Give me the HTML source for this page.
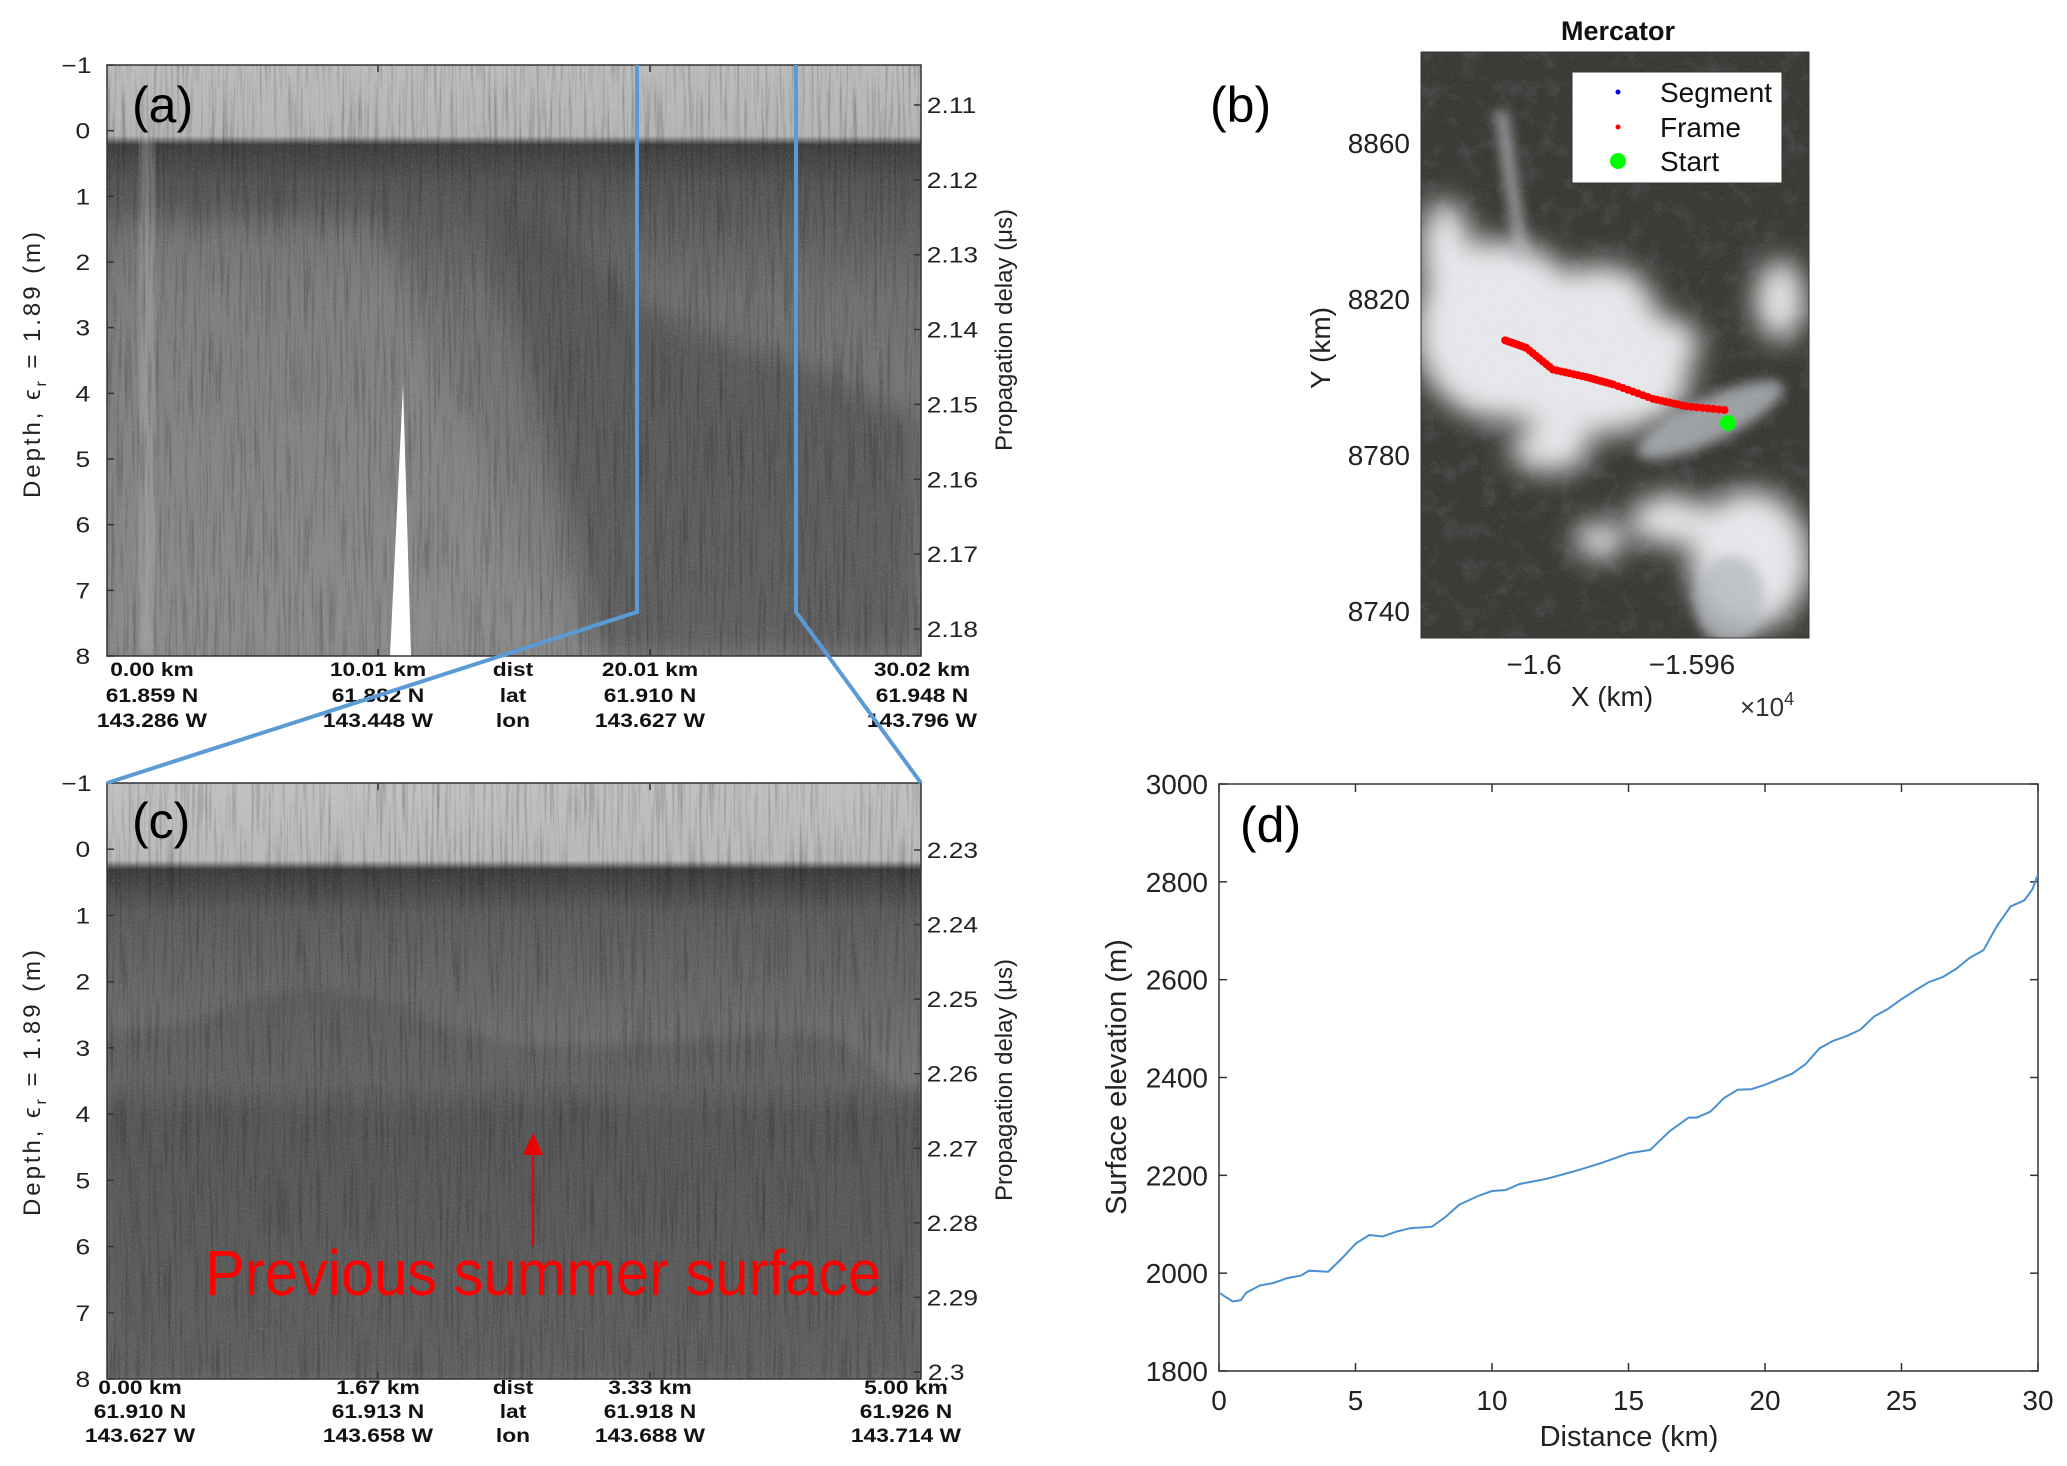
<!DOCTYPE html>
<html><head><meta charset="utf-8">
<style>
html,body{margin:0;padding:0;background:#fff;}
svg{display:block;font-family:"Liberation Sans",sans-serif;}
.sx{transform-box:fill-box;transform-origin:center;transform:scaleX(1.2);}
.tk{font-size:22px;fill:#222;}
.bl{font-size:19px;font-weight:bold;fill:#111;}
.tk2{font-size:28px;fill:#222;}
</style></head>
<body>
<svg id="fig" width="2067" height="1466" viewBox="0 0 2067 1466" xmlns="http://www.w3.org/2000/svg">
<defs>
<filter id="streak" x="0" y="0" width="100%" height="100%">
<feTurbulence type="fractalNoise" baseFrequency="0.35 0.012" numOctaves="3" seed="3"/>
<feColorMatrix type="matrix" values="0 0 0 0 0  0 0 0 0 0  0 0 0 0 0  0 0 0 -1.4 0.75"/>
</filter>
<filter id="speck" x="0" y="0" width="100%" height="100%">
<feTurbulence type="fractalNoise" baseFrequency="0.8 0.5" numOctaves="1" seed="7"/>
<feColorMatrix type="matrix" values="0 0 0 0 1  0 0 0 0 1  0 0 0 0 1  0 0 0 -1.2 0.65"/>
</filter>
<filter id="rough" x="0" y="0" width="100%" height="100%">
<feTurbulence type="fractalNoise" baseFrequency="0.05" numOctaves="4" seed="11"/>
<feColorMatrix type="matrix" values="0 0 0 0 0.1  0 0 0 0 0.1  0 0 0 0 0.12  0 0 0 -2.2 1.1"/>
</filter>
<filter id="blur6"><feGaussianBlur stdDeviation="6"/></filter>
<filter id="blur14"><feGaussianBlur stdDeviation="14"/></filter>
<linearGradient id="ga" x1="0" y1="0" x2="0" y2="1">
<stop offset="0" stop-color="#bcbcbc"/><stop offset="0.12" stop-color="#b4b4b4"/>
<stop offset="0.135" stop-color="#3e3e3e"/><stop offset="0.2" stop-color="#545454"/>
<stop offset="0.4" stop-color="#707070"/><stop offset="1" stop-color="#848484"/>
</linearGradient>
<linearGradient id="gc" x1="0" y1="0" x2="0" y2="1">
<stop offset="0" stop-color="#c0c0c0"/><stop offset="0.13" stop-color="#b8b8b8"/>
<stop offset="0.145" stop-color="#3c3c3c"/><stop offset="0.22" stop-color="#5c5c5c"/>
<stop offset="0.5" stop-color="#747474"/><stop offset="0.56" stop-color="#5c5c5c"/>
<stop offset="1" stop-color="#6e6e6e"/>
</linearGradient>
<clipPath id="clipA"><rect x="107" y="65" width="814" height="591"/></clipPath>
<clipPath id="clipC"><rect x="107" y="783" width="814" height="596"/></clipPath>
<clipPath id="clipB"><rect x="1421" y="52" width="388" height="586"/></clipPath>
<clipPath id="clipD"><rect x="1219" y="784" width="819" height="587"/></clipPath>
</defs>

<!-- ===== Panel (a) ===== -->
<g id="panel-a">
<g clip-path="url(#clipA)">
<rect x="107" y="65" width="814" height="591" fill="url(#ga)"/>
<polygon points="480,190 560,230 640,300 720,340 800,360 921,420 921,656 600,656" fill="#4a4a4a" opacity="0.6" filter="url(#blur14)"/>
<polygon points="107,220 380,220 560,656 107,656" fill="#9a9a9a" opacity="0.35" filter="url(#blur14)"/>
<rect x="140" y="65" width="14" height="591" fill="#bbb" opacity="0.45" filter="url(#blur6)"/>
<rect x="107" y="65" width="814" height="591" filter="url(#streak)" opacity="0.4"/>
<rect x="107" y="65" width="814" height="591" filter="url(#speck)" opacity="0.25"/>
<polygon points="390,656 403,385 411,656" fill="#fff"/>
</g>
<rect x="107" y="65" width="814" height="591" fill="none" stroke="#333" stroke-width="1.5"/>
<g id="axes-a"></g>
<text x="132" y="122" font-size="50" fill="#000">(a)</text>
<text transform="translate(40,365) rotate(-90)" text-anchor="middle" font-size="24" fill="#222" textLength="266">Depth, ϵ<tspan font-size="16" dy="6">r</tspan><tspan dy="-6"> = 1.89 (m)</tspan></text>
<text transform="translate(1012,330) rotate(-90)" text-anchor="middle" font-size="24" fill="#222">Propagation delay (μs)</text>
</g>

<!-- ===== Panel (c) ===== -->
<g id="panel-c">
<g clip-path="url(#clipC)">
<rect x="107" y="783" width="814" height="596" fill="url(#gc)"/>
<path d="M107,1030 C200,1040 250,980 330,990 C420,1000 450,1040 540,1045 C700,1050 760,1020 840,1040 C900,1080 900,1110 921,1080 L921,1379 L107,1379 Z" fill="#4f4f4f" opacity="0.45" filter="url(#blur6)"/>
<rect x="107" y="783" width="814" height="596" filter="url(#streak)" opacity="0.4"/>
<rect x="107" y="783" width="814" height="596" filter="url(#speck)" opacity="0.25"/>
</g>
<rect x="107" y="783" width="814" height="596" fill="none" stroke="#333" stroke-width="1.5"/>
<g id="axes-c"></g>
<text x="132" y="838" font-size="50" fill="#000">(c)</text>
<text transform="translate(40,1083) rotate(-90)" text-anchor="middle" font-size="24" fill="#222" textLength="266">Depth, ϵ<tspan font-size="16" dy="6">r</tspan><tspan dy="-6"> = 1.89 (m)</tspan></text>
<text transform="translate(1012,1080) rotate(-90)" text-anchor="middle" font-size="24" fill="#222">Propagation delay (μs)</text>
<line x1="533" y1="1246" x2="533" y2="1152" stroke="#e00" stroke-width="2"/>
<polygon points="523,1155 543,1155 533,1133" fill="#e00"/>
<text x="205" y="1295" font-size="64" fill="#f00" textLength="676" lengthAdjust="spacingAndGlyphs">Previous summer surface</text>
</g>

<!-- zoom connector lines -->
<polyline points="637,65 637,612 107,783" fill="none" stroke="#5b9bd5" stroke-width="4"/>
<polyline points="796,65 796,612 921,783" fill="none" stroke="#5b9bd5" stroke-width="4"/>

<!-- ===== Panel (b) ===== -->
<g id="panel-b">
<text x="1618" y="40" text-anchor="middle" font-size="27" font-weight="bold" fill="#111">Mercator</text>
<g clip-path="url(#clipB)">
<rect x="1421" y="52" width="388" height="586" fill="#3a3934"/>
<rect x="1421" y="52" width="388" height="586" filter="url(#rough)" opacity="0.6"/>
<g fill="#e6e7ea" filter="url(#blur14)">
<ellipse cx="1500" cy="330" rx="85" ry="90"/>
<ellipse cx="1590" cy="380" rx="100" ry="55"/>
<ellipse cx="1600" cy="310" rx="55" ry="45"/>
<ellipse cx="1655" cy="345" rx="45" ry="30"/>
<ellipse cx="1445" cy="250" rx="25" ry="50"/>
<ellipse cx="1750" cy="560" rx="60" ry="70"/>
<ellipse cx="1670" cy="520" rx="40" ry="25"/>
<ellipse cx="1780" cy="300" rx="25" ry="40"/>
<ellipse cx="1550" cy="450" rx="40" ry="22"/>
<ellipse cx="1600" cy="540" rx="25" ry="18"/>
</g>
<g fill="#b5b9bf" opacity="0.8" filter="url(#blur6)">
<ellipse cx="1710" cy="420" rx="80" ry="22" transform="rotate(-25 1710 420)"/>
<rect x="1505" y="110" width="12" height="150" transform="rotate(-8 1512 180)"/>
<ellipse cx="1730" cy="600" rx="35" ry="45"/>
</g>
<rect x="1421" y="52" width="388" height="586" filter="url(#speck)" opacity="0.18"/>
</g>
<rect x="1421" y="52" width="388" height="586" fill="none" stroke="#333" stroke-width="1"/>
<g id="track"></g>
<g id="axes-b"></g>
<text x="1210" y="122" font-size="50" fill="#000">(b)</text>
<text transform="translate(1330,348) rotate(-90)" text-anchor="middle" font-size="28" fill="#222">Y (km)</text>
<text x="1612" y="706" text-anchor="middle" font-size="28" fill="#222">X (km)</text>
<text x="1740" y="716" font-size="26" fill="#333">×10<tspan font-size="18" dy="-11">4</tspan></text>
<g>
<rect x="1572" y="72" width="210" height="111" fill="#fff" stroke="#333" stroke-width="1"/>
<circle cx="1618" cy="92" r="2.5" fill="#00f"/>
<text x="1660" y="102" font-size="28" fill="#111">Segment</text>
<circle cx="1618" cy="127" r="2.5" fill="#f00"/>
<text x="1660" y="137" font-size="28" fill="#111">Frame</text>
<circle cx="1618" cy="161" r="8" fill="#0f0"/>
<text x="1660" y="171" font-size="28" fill="#111">Start</text>
</g>
</g>

<!-- ===== Panel (d) ===== -->
<g id="panel-d">
<rect x="1219" y="784" width="819" height="587" fill="#fff" stroke="#333" stroke-width="1.5"/>
<g id="axes-d"></g>
<g clip-path="url(#clipD)"><path id="elev-line" fill="none" stroke="#4a90d0" stroke-width="2"/></g>
<text x="1240" y="842" font-size="50" fill="#000">(d)</text>
<text transform="translate(1126,1077) rotate(-90)" text-anchor="middle" font-size="29" fill="#222">Surface elevation (m)</text>
<text x="1629" y="1446" text-anchor="middle" font-size="29" fill="#222">Distance (km)</text>
</g>

<script>
// ---------- data ----------
const depthTicks = [-1,0,1,2,3,4,5,6,7,8];
const delayTicksA = ["2.11","2.12","2.13","2.14","2.15","2.16","2.17","2.18"];
const delayTicksC = ["2.23","2.24","2.25","2.26","2.27","2.28","2.29","2.3"];
const distLabelsA = ["0.00 km","10.01 km","dist","20.01 km","30.02 km"];
const latLabelsA = ["61.859 N","61.882 N","lat","61.910 N","61.948 N"];
const lonLabelsA = ["143.286 W","143.448 W","lon","143.627 W","143.796 W"];
const distLabelsC = ["0.00 km","1.67 km","dist","3.33 km","5.00 km"];
const latLabelsC = ["61.910 N","61.913 N","lat","61.918 N","61.926 N"];
const lonLabelsC = ["143.627 W","143.658 W","lon","143.688 W","143.714 W"];
const mapYTicks = [8860,8820,8780,8740];
const mapXTicks = [-1.6,-1.596];
const trackX = [-1.60073,-1.6002,-1.59952,-1.59868,-1.598,-1.59699,-1.59615,-1.59504];
const trackY = [8809.4,8807.5,8801.9,8800.0,8798.1,8794.4,8792.5,8791.4];
const startX = [-1.59509];
const startY = [8788.2];
const elevDist = [0,0.5,0.8,1,1.5,2,2.5,3,3.3,4,4.5,5,5.5,6,6.5,7,7.8,8.3,8.8,9.5,10,10.5,11,12,13,14,15,15.8,16.5,17.2,17.5,18,18.5,19,19.5,20,21,21.5,22,22.5,23,23.5,24,24.5,25,25.5,26,26.5,27,27.5,28,28.5,29,29.5,29.8,30];
const elevVals = [1960,1942,1945,1960,1975,1980,1990,1995,2005,2003,2030,2060,2078,2075,2085,2092,2095,2115,2140,2158,2168,2170,2182,2193,2208,2225,2245,2252,2290,2318,2318,2330,2358,2375,2376,2385,2408,2428,2460,2475,2485,2498,2525,2540,2560,2578,2595,2605,2622,2645,2660,2710,2750,2762,2785,2815];
const elevYTicks = [1800,2000,2200,2400,2600,2800,3000];
const elevXTicks = [0,5,10,15,20,25,30];

const NS = "http://www.w3.org/2000/svg";
function mk(tag, attrs, parent, txt){
  const e = document.createElementNS(NS, tag);
  for (const k in attrs) e.setAttribute(k, attrs[k]);
  if (txt !== undefined) e.textContent = txt;
  parent.appendChild(e);
  return e;
}

function radarAxes(gid, top, bottom, delayTicks, delayTop, delayBot, dl, lt, ln, labelXs, rowYs){
  const g = document.getElementById(gid);
  const L = 107, R = 921;
  const yD = d => top + (d + 1) / 9 * (bottom - top);
  depthTicks.forEach(d => {
    const y = yD(d);
    const t = mk('line', {x1:L, x2:L+7, y1:y, y2:y, stroke:'#333', 'stroke-width':1.5}, g);
    
    
    const lab = mk('text', {x:L-18, y:y+8, 'text-anchor':'end', class:'tk sx'}, g, d === -1 ? '\u22121' : String(d));
    
    
  });
  const n = delayTicks.length;
  delayTicks.forEach((v, i) => {
    const y = delayTop + i * (delayBot - delayTop) / (n - 1);
    const t = mk('line', {x1:R-7, x2:R, y1:y, y2:y, stroke:'#333', 'stroke-width':1.5}, g);
    
    
    const lab = mk('text', {x:R+10, y:y+8, class:'tk sx'}, g, v);
    
    
  });
  [labelXs[1], labelXs[3]].forEach(x => {
    mk('line', {x1:x, x2:x, y1:top, y2:top+7, stroke:'#333', 'stroke-width':1.5}, g);
    mk('line', {x1:x, x2:x, y1:bottom-7, y2:bottom, stroke:'#333', 'stroke-width':1.5}, g);
  });
  [dl, lt, ln].forEach((arr, r) => {
    arr.forEach((s, i) => {
      const lab = mk('text', {x:labelXs[i], y:rowYs[r], 'text-anchor':'middle', class:'bl sx'}, g, s);
      
      
    });
  });
}
radarAxes('axes-a', 65, 656, delayTicksA, 105, 629, distLabelsA, latLabelsA, lonLabelsA, [152,378,513,650,922], [676,702,727]);
radarAxes('axes-c', 783, 1379, delayTicksC, 850, 1372, distLabelsC, latLabelsC, lonLabelsC, [140,378,513,650,906], [1394,1418,1442]);

// ---------- map axes ----------
const mx = v => 1534 + (v - (-1.6)) / 0.004 * 158;
const my = v => 143 + (8860 - v) / 120 * 468;
(function(){
  const g = document.getElementById('axes-b');
  mapYTicks.forEach(v => {
    const lab = mk('text', {x:1410, y:my(v)+10, 'text-anchor':'end', class:'tk2'}, g, String(v));
    
    
  });
  mapXTicks.forEach(v => {
    const lab = mk('text', {x:mx(v), y:674, 'text-anchor':'middle', class:'tk2'}, g, '\u2212' + String(Math.abs(v)));
    
    
  });
  const tg = document.getElementById('track');
  for (let i = 0; i < trackX.length - 1; i++) {
    const x0 = mx(trackX[i]), y0 = my(trackY[i]), x1 = mx(trackX[i+1]), y1 = my(trackY[i+1]);
    for (let k = 0; k < 8; k++) {
      const t = k / 8;
      const c = mk('circle', {cx:x0+(x1-x0)*t, cy:y0+(y1-y0)*t, r:4, fill:'#f00'}, tg);
      
      
    }
  }
  const s = mk('circle', {cx:mx(startX[0]), cy:my(startY[0]), r:8, fill:'#0f0'}, tg);
  
  
})();

// ---------- elevation chart ----------
const ex = v => 1219 + v / 30 * 819;
const ey = v => 1371 - (v - 1800) / 1200 * 587;
(function(){
  const g = document.getElementById('axes-d');
  elevYTicks.forEach(v => {
    const y = ey(v);
    mk('line', {x1:1219, x2:1227, y1:y, y2:y, stroke:'#333', 'stroke-width':1.5}, g);
    mk('line', {x1:2030, x2:2038, y1:y, y2:y, stroke:'#333', 'stroke-width':1.5}, g);
    const lab = mk('text', {x:1208, y:y+10, 'text-anchor':'end', class:'tk2'}, g, String(v));
    
    
  });
  elevXTicks.forEach(v => {
    const x = ex(v);
    mk('line', {x1:x, x2:x, y1:1363, y2:1371, stroke:'#333', 'stroke-width':1.5}, g);
    mk('line', {x1:x, x2:x, y1:784, y2:792, stroke:'#333', 'stroke-width':1.5}, g);
    const lab = mk('text', {x:x, y:1410, 'text-anchor':'middle', class:'tk2'}, g, String(v));
    
    
  });
  const d = elevDist.map((v, i) => (i ? 'L' : 'M') + ex(v).toFixed(1) + ',' + ey(elevVals[i]).toFixed(1)).join(' ');
  document.getElementById('elev-line').setAttribute('d', d);
})();
</script>
</svg>
</body></html>
